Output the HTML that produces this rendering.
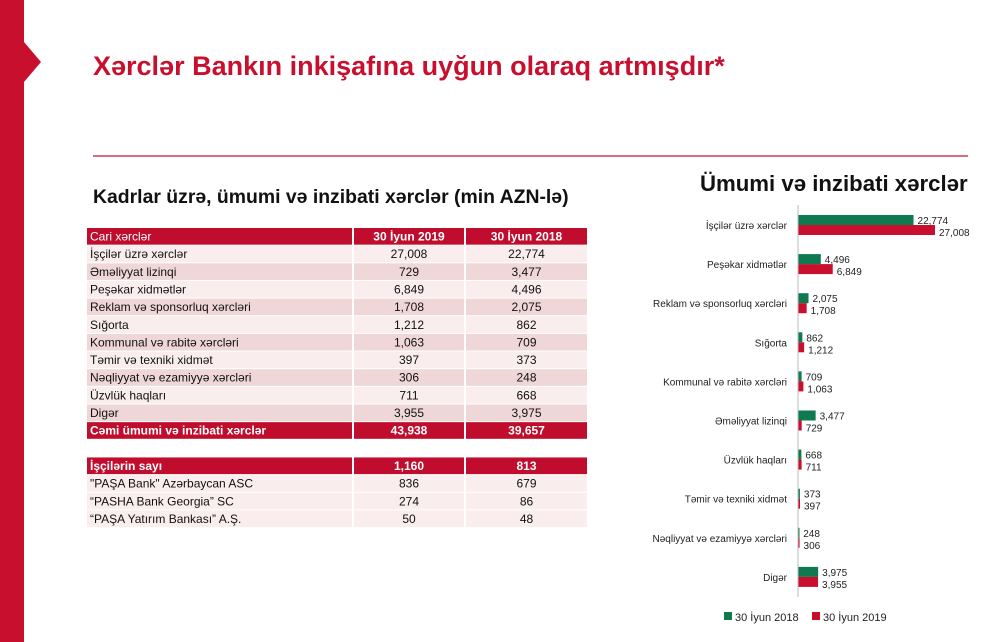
<!DOCTYPE html>
<html><head><meta charset="utf-8"><style>
body{margin:0;background:#fff;}
svg{display:block;font-family:"Liberation Sans",sans-serif;}
</style></head><body>
<svg width="1000" height="642" viewBox="0 0 1000 642" xmlns="http://www.w3.org/2000/svg">
<rect x="0" y="0" width="24" height="642" fill="#c8102e"/>
<polygon points="24,42 41,62 24,82" fill="#c8102e"/>
<text x="93" y="75" font-size="27" font-weight="bold" fill="#c8102e">Xərclər Bankın inkişafına uyğun olaraq artmışdır*</text>
<line x1="93" y1="156" x2="968" y2="156" stroke="#c8102e" stroke-width="1.2"/>
<text x="93" y="203" font-size="19.4" font-weight="bold" fill="#111">Kadrlar üzrə, ümumi və inzibati xərclər (min AZN-lə)</text>
<text x="700" y="191" font-size="22.2" font-weight="bold" fill="#111">Ümumi və inzibati xərclər</text>
<g id="table" font-size="12"></g>
<g id="chart" font-size="10" fill="#222"></g>
<g font-size="11" fill="#222">
<rect x="724" y="612" width="8" height="8" fill="#0f7a4f"/><text x="735" y="621">30 İyun 2018</text>
<rect x="812" y="612" width="8" height="8" fill="#c8102e"/><text x="823" y="621">30 İyun 2019</text>
</g>
</svg>
<script>
const NS="http://www.w3.org/2000/svg";
function el(p,t,a,txt){const e=document.createElementNS(NS,t);for(const k in a)e.setAttribute(k,a[k]);if(txt!==undefined)e.textContent=txt;p.appendChild(e);return e;}
const rows=[["Cari xərclər","30 İyun 2019","30 İyun 2018","h"],
["İşçilər üzrə xərclər","27,008","22,774","a"],["Əməliyyat lizinqi","729","3,477","b"],
["Peşəkar xidmətlər","6,849","4,496","a"],["Reklam və sponsorluq xərcləri","1,708","2,075","b"],
["Sığorta","1,212","862","a"],["Kommunal və rabitə xərcləri","1,063","709","b"],
["Təmir və texniki xidmət","397","373","a"],["Nəqliyyat və ezamiyyə xərcləri","306","248","b"],
["Üzvlük haqları","711","668","a"],["Digər","3,955","3,975","b"],
["Cəmi ümumi və inzibati xərclər","43,938","39,657","t"],["","","","w"],
["İşçilərin sayı","1,160","813","t"],["\"PAŞA Bank\" Azərbaycan  ASC","836","679","a"],
["“PASHA Bank Georgia” SC","274","86","a"],["“PAŞA Yatırım Bankası” A.Ş.","50","48","a"]];
const T=document.getElementById("table");
const cols=[[87,352],[354,464],[466,587]];
const h=17.65;
rows.forEach((r,i)=>{const y=228+i*h;const ty=r[3];
const fill=ty=="h"||ty=="t"?"#c00d2d":ty=="a"?"#f9eded":ty=="b"?"#f0d7d7":"#fff";
const tc=ty=="h"||ty=="t"?"#fff":"#111";const fw=(ty=="t"||ty=="h")?"bold":"normal";
cols.forEach((c,j)=>{el(T,"rect",{x:c[0],y:y,width:c[1]-c[0],height:h-1,fill:fill});
if(j==0)el(T,"text",{x:c[0]+3,y:y+12.5,fill:tc,"font-weight":ty=="t"?"bold":"normal"},r[0]);
else el(T,"text",{x:(c[0]+c[1])/2,y:y+12.5,fill:tc,"text-anchor":"middle","font-weight":fw},r[j]);});});
const data=[["İşçilər üzrə xərclər",22774,27008],["Peşəkar xidmətlər",4496,6849],["Reklam və sponsorluq xərcləri",2075,1708],
["Sığorta",862,1212],["Kommunal və rabitə xərcləri",709,1063],["Əməliyyat lizinqi",3477,729],["Üzvlük haqları",668,711],
["Təmir və texniki xidmət",373,397],["Nəqliyyat və ezamiyyə xərcləri",248,306],["Digər",3975,3955]];
const C=document.getElementById("chart");const x0=798,s=137/27008;
const f=n=>n.toLocaleString("en-US");
data.forEach((d,i)=>{const c=225+i*39.1;
el(C,"text",{x:787,y:c+4,"text-anchor":"end"},d[0]);
el(C,"rect",{x:x0,y:c-10,width:Math.max(d[1]*s,1.5),height:10,fill:"#0f7a4f"});
el(C,"rect",{x:x0,y:c,width:Math.max(d[2]*s,1.5),height:10,fill:"#c8102e"});
el(C,"text",{x:x0+d[1]*s+4,y:c-1},f(d[1]));
el(C,"text",{x:x0+d[2]*s+4,y:c+11},f(d[2]));});
el(C,"line",{x1:x0,y1:205,x2:x0,y2:597,stroke:"#bbb","stroke-width":1});
</script>
</body></html>
